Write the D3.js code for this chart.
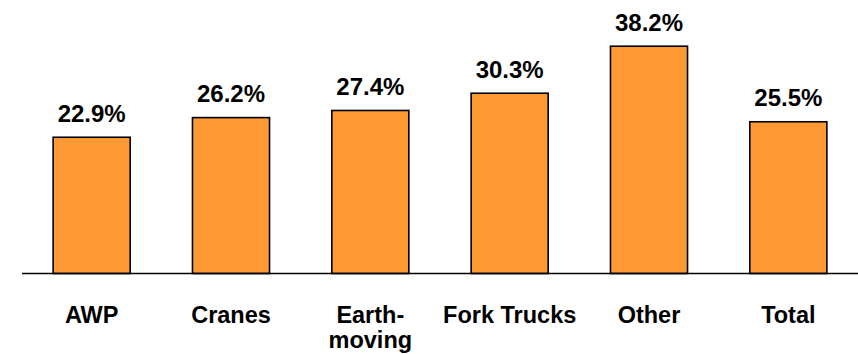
<!DOCTYPE html>
<html><head><meta charset="utf-8">
<script src="https://cdn.jsdelivr.net/npm/d3@7"></script>
<style>html,body{margin:0;padding:0;background:#fff;}svg{display:block;}</style>
</head><body>
<script>
const categories = ["AWP", "Cranes", "Earth-\nmoving", "Fork Trucks", "Other", "Total"];
const values = [22.9, 26.2, 27.4, 30.3, 38.2, 25.5];
const valueLabels = ["22.9%", "26.2%", "27.4%", "30.3%", "38.2%", "25.5%"];

const W = 858, H = 354;
const svg = d3.select("body").append("svg").attr("width", W).attr("height", H);

const x = d3.scaleBand().domain(d3.range(categories.length)).range([22, 858]).paddingInner(0.447).paddingOuter(0.2235);
const y = d3.scaleLinear().domain([0, 40]).range([273.5, 35.5]);

const font = "'Liberation Sans', Arial, sans-serif";

svg.selectAll("rect.bar").data(values).join("rect")
  .attr("class", "bar")
  .attr("x", (d, i) => x(i))
  .attr("width", x.bandwidth())
  .attr("y", d => y(d))
  .attr("height", d => y(0) - y(d))
  .attr("fill", "#FF9933")
  .attr("stroke", "#000")
  .attr("stroke-width", 1.6);

svg.append("line").attr("x1", 22).attr("x2", 858).attr("y1", y(0)).attr("y2", y(0))
  .attr("stroke", "#000").attr("stroke-width", 1.6);

svg.selectAll("text.val").data(values).join("text")
  .attr("class", "val")
  .attr("x", (d, i) => x(i) + x.bandwidth() / 2)
  .attr("y", d => y(d) - 15.7)
  .attr("text-anchor", "middle")
  .attr("font-family", font).attr("font-weight", "bold").attr("font-size", 24)
  .attr("fill", "#000")
  .text((d, i) => valueLabels[i]);

const cat = svg.selectAll("text.cat").data(categories).join("text")
  .attr("class", "cat")
  .attr("text-anchor", "middle")
  .attr("font-family", font).attr("font-weight", "bold").attr("font-size", 23.5)
  .attr("fill", "#000");
cat.each(function(d, i) {
  const lines = d.split("\n");
  d3.select(this).selectAll("tspan").data(lines).join("tspan")
    .attr("x", x(i) + x.bandwidth() / 2)
    .attr("y", (l, j) => 322.5 + j * 25)
    .text(l => l);
});
</script>
</body></html>
